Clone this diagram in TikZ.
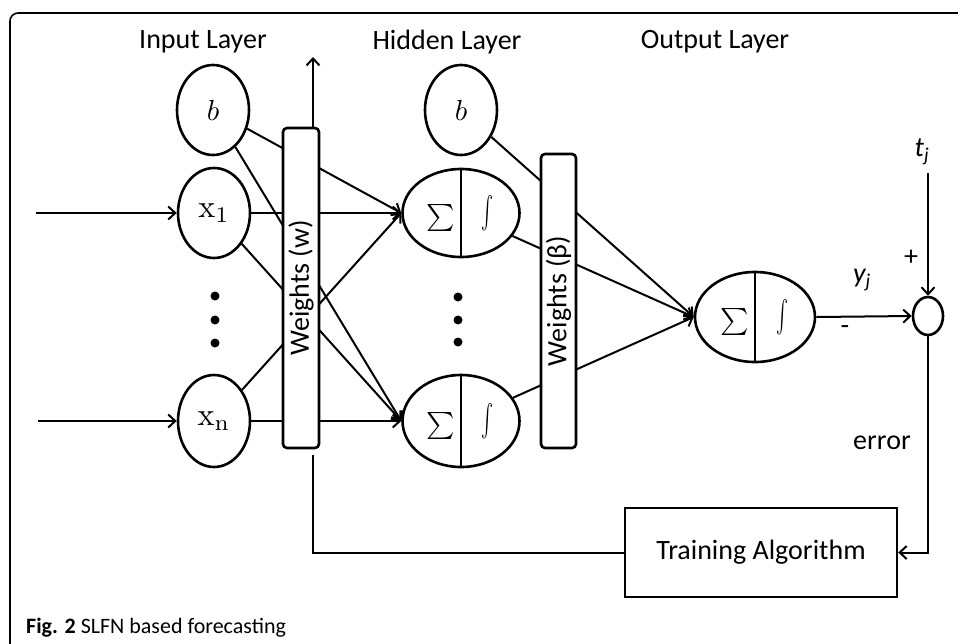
\documentclass[tikz,border=0pt]{standalone}
\usepackage{fontspec}
\usepackage{graphicx}
\usetikzlibrary{shapes.geometric,arrows.meta}
\newfontfamily\cali{Carlito}
\newcommand{\bigsum}{\scalebox{2.7}{$\sum$}}
\newcommand{\bigint}{\scalebox{1.8}[3.2]{$\int$}}
\tikzset{
  lab/.style={font=\cali\fontsize{28}{32}\selectfont, inner sep=0},
  neuron/.style={draw, ellipse, line width=2.6pt, fill=white, inner sep=0},
  wbox/.style={draw, line width=2.6pt, fill=white, rounded corners=4pt, rotate=90, font=\cali\fontsize{28}{32}\selectfont, inner sep=0},
  conn/.style={line width=2pt},
  arr/.style={line width=2pt, -{Straight Barb[length=7pt,width=13pt,line width=2pt]}},
  dot/.style={fill, circle, inner sep=0, minimum size=9pt}
}
\begin{document}
\begin{tikzpicture}[x=1pt,y=-1pt]
\useasboundingbox (0,0) rectangle (958,643);
\begin{scope}
\clip (0,0) rectangle (958,643);
\draw[line width=1.6pt, rounded corners=8pt] (10,13) rectangle (1000,660);
\end{scope}
% labels
\node[lab] (lin) at (203,42) {Input Layer};
\node[lab] (lhid) at (447,42) {Hidden Layer};
\node[lab] (lout) at (715,42) {Output Layer};
% input nodes
\node[neuron, minimum width=72, minimum height=90] (ib) at (213,110) {\scalebox{2.9}{$b$}};
\node[neuron, minimum width=72, minimum height=90] (x1) at (214,213) {\scalebox{3.2}{$\mathrm{x}_1$}};
\node[neuron, minimum width=72, minimum height=92] (xn) at (214,421) {\scalebox{3.2}{$\mathrm{x}_\mathrm{n}$}};
\node[dot] (d1) at (215,296) {};
\node[dot] (d2) at (215,320) {};
\node[dot] (d3) at (215,343) {};
% hidden nodes
\node[neuron, minimum width=72, minimum height=90] (hb) at (461,110) {\scalebox{2.9}{$b$}};
\node[neuron, minimum width=117, minimum height=88] (h1) at (461,213) {};
\node[neuron, minimum width=117, minimum height=92] (hn) at (461,421) {};
\draw[line width=2pt] (h1.north) -- (h1.south);
\draw[line width=2pt] (hn.north) -- (hn.south);
\node[inner sep=0] (s1) at (441,218) {\bigsum};
\node[inner sep=0] (i1) at (487,213) {\bigint};
\node[inner sep=0] (sn) at (441,426) {\bigsum};
\node[inner sep=0] (in) at (487,421) {\bigint};
\node[dot] (e1) at (458,297) {};
\node[dot] (e2) at (458,320) {};
\node[dot] (e3) at (458,342) {};
% output node
\node[neuron, minimum width=120, minimum height=90] (out) at (755,317) {};
\draw[line width=2pt] (out.north) -- (out.south);
\node[inner sep=0] (so) at (735,322) {\bigsum};
\node[inner sep=0] (io) at (782,317) {\bigint};
% summing junction
\node[draw, ellipse, line width=2.6pt, minimum width=30, minimum height=38, inner sep=0] (sum) at (928,316) {};
% inputs
\coordinate (in1) at (36,213);
\coordinate (inn) at (38,421);
\draw[arr] (in1) -- (x1);
\draw[arr] (inn) -- (xn);
% input -> hidden connections
\draw[arr] (ib) -- (h1.west);
\draw[arr] (ib) -- (hn.west);
\draw[arr] (x1) -- (h1.west);
\draw[arr] (x1) -- (hn.west);
\draw[arr] (xn) -- (h1.west);
\draw[arr] (xn) -- (hn.west);
% hidden -> output connections
\draw[arr] (hb) -- (out.west);
\draw[arr] (h1) -- (out.west);
\draw[arr] (hn) -- (out.west);
% weight boxes
\node[wbox, minimum width=320, minimum height=36] (w) at (301,288) {Weights (w)};
\node[wbox, minimum width=294, minimum height=35] (beta) at (558.5,301) {Weights (β)};
% up arrow from weights
\coordinate (wtop) at (313,128);
\coordinate (wup) at (313,57);
\draw[arr] (wtop) -- (wup);
% output to sum
\draw[arr] (out.east) -- (sum.west);
\node[lab, font=\cali\itshape\fontsize{28}{32}\selectfont] (yj) at (862,280) {y\textsubscript{j}};
\node[lab] (minus) at (845,330) {-};
% target
\node[lab, font=\cali\itshape\fontsize{28}{32}\selectfont] (tj) at (922,152) {t\textsubscript{j}};
\coordinate (ttop) at (928,173);
\draw[arr] (ttop) -- (sum.north);
\node[lab] (plus) at (911,258) {+};
% training
\node[draw, line width=2.4pt, minimum width=272, minimum height=89, inner sep=0, font=\cali\fontsize{28}{32}\selectfont] (train) at (761,552.5) {Training Algorithm};
\draw[arr] (sum.south) |- (train.east);
\node[lab] (err) at (882,443) {error};
\coordinate (wfb) at (313,455);
\draw[conn] (train.west) -| (wfb);
% caption
\node[anchor=base west, inner sep=0, font=\cali\fontsize{22}{26}\selectfont] (cap) at (26,633) {\textbf{Fig. 2} SLFN based forecasting};
\end{tikzpicture}
\end{document}
